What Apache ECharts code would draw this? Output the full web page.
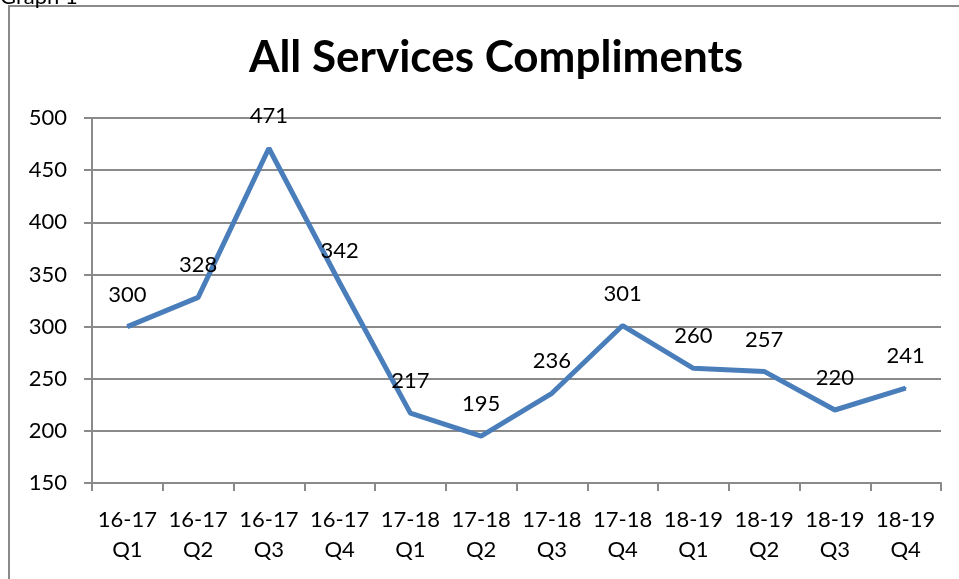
<!DOCTYPE html>
<html><head><meta charset="utf-8">
<script src="https://cdn.jsdelivr.net/npm/echarts@6/dist/echarts.min.js"></script>
<style>html,body{margin:0;padding:0;background:#fff}#c{width:959px;height:579px}</style>
</head><body><div id="c"></div>
<script>
var categories = ['16-17\nQ1','16-17\nQ2','16-17\nQ3','16-17\nQ4','17-18\nQ1','17-18\nQ2','17-18\nQ3','17-18\nQ4','18-19\nQ1','18-19\nQ2','18-19\nQ3','18-19\nQ4'];
var values = [300,328,471,342,217,195,236,301,260,257,220,241];
var yTicks = [150,200,250,300,350,400,450,500];
var FONT = 'Lato, "Open Sans", sans-serif';
var chart = echarts.init(document.getElementById('c'), null, {renderer:'canvas'});
chart.setOption({
  animation:false,
  backgroundColor:'#fff',
  title:{text:'All Services Compliments', left:491, top:31, textAlign:'center',
    textStyle:{fontFamily:FONT, fontWeight:'bold', fontSize:44, color:'#000'}},
  graphic:[
    {type:'rect', shape:{x:9,y:6,width:1000,height:1000}, style:{fill:null, stroke:'#8a8a8a', lineWidth:2}},
    {type:'text', left:0, top:-14, style:{text:'Graph 1', font:'22px '+FONT, fill:'#000'}}
  ],
  grid:{left:92, right:18, top:118, bottom:96},
  xAxis:{type:'category', data:categories, boundaryGap:true,
    axisLine:{lineStyle:{color:'#8a8a8a', width:2}},
    axisTick:{show:true, length:8, lineStyle:{color:'#8a8a8a', width:2}},
    axisLabel:{color:'#000', fontFamily:FONT, fontSize:22, lineHeight:30, margin:22, interval:0}},
  yAxis:{type:'value', min:yTicks[0], max:yTicks[yTicks.length-1], interval:50,
    axisLine:{show:true, lineStyle:{color:'#8a8a8a', width:2}},
    axisTick:{show:true, length:8, lineStyle:{color:'#8a8a8a', width:2}},
    splitLine:{lineStyle:{color:'#8a8a8a', width:2}},
    axisLabel:{color:'#000', fontFamily:FONT, fontSize:22, margin:25}},
  series:[{type:'line', data:values, symbol:'circle', symbolSize:2, showSymbol:true, smooth:false,
    itemStyle:{color:'#4a7ebb'},
    lineStyle:{color:'#4a7ebb', width:5},
    label:{show:true, position:'top', distance:20, color:'#000', fontFamily:FONT, fontSize:22}}]
});
</script></body></html>
